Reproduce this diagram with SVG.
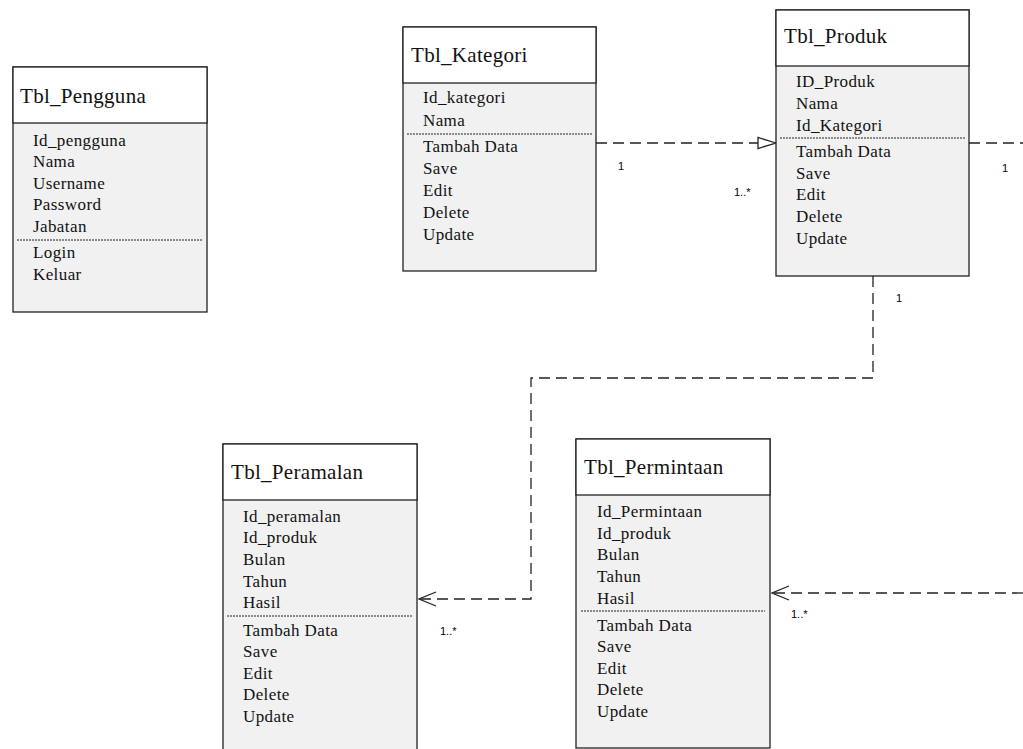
<svg xmlns="http://www.w3.org/2000/svg" width="1023" height="749" viewBox="0 0 1023 749">
<style>
.box{fill:#f1f1f1;stroke:#222;stroke-width:1.3}
.hdr{fill:#ffffff;stroke:#222;stroke-width:1.3}
.sep{stroke:#222;stroke-width:1;stroke-dasharray:2,1}
.title{font-family:'Liberation Serif','DejaVu Serif','Times New Roman',Times,serif;font-size:21px;letter-spacing:0.3px;fill:#111}
.attr{font-family:'Liberation Serif','DejaVu Serif','Times New Roman',Times,serif;font-size:17px;letter-spacing:0.4px;fill:#111}
.conn{fill:none;stroke:#222;stroke-width:1.3;stroke-dasharray:11,6}
.arr{fill:none;stroke:#222;stroke-width:1.3}
.lbl{font-family:'Liberation Sans',Arial,sans-serif;font-size:11px;fill:#000}
</style>
<rect width="1023" height="749" fill="#ffffff"/>

<g id="connectors">
  <path class="conn" d="M596,143 H758"/>
  <polygon points="776,143 758,137.5 758,148.5" fill="#ffffff" stroke="#222" stroke-width="1.3"/>
  <path class="conn" d="M969,143 H1023"/>
  <path class="conn" d="M873,276 V378 H531 V599 H419"/>
  <path class="arr" d="M436,592 L419,599 L436,606"/>
  <path class="conn" d="M1023,593 H772"/>
  <path class="arr" d="M789,586 L772,593 L789,600"/>
  <text class="lbl" x="618" y="170">1</text>
  <text class="lbl" x="734" y="196">1..*</text>
  <text class="lbl" x="1002" y="172">1</text>
  <text class="lbl" x="896" y="302">1</text>
  <text class="lbl" x="440" y="635">1..*</text>
  <text class="lbl" x="791" y="618">1..*</text>
</g>

<g id="tbl-pengguna">
  <rect class="box" x="13" y="67" width="194" height="245"/>
  <rect class="hdr" x="13" y="67" width="194" height="56"/>
  <text class="title" x="20" y="103">Tbl_Pengguna</text>
  <text class="attr" x="33" y="146">Id_pengguna</text>
  <text class="attr" x="33" y="167">Nama</text>
  <text class="attr" x="33" y="189">Username</text>
  <text class="attr" x="33" y="210">Password</text>
  <text class="attr" x="33" y="232">Jabatan</text>
  <line class="sep" x1="17" y1="240" x2="202" y2="240"/>
  <text class="attr" x="33" y="258">Login</text>
  <text class="attr" x="33" y="280">Keluar</text>
</g>

<g id="tbl-kategori">
  <rect class="box" x="403" y="27" width="193" height="244"/>
  <rect class="hdr" x="403" y="27" width="193" height="56"/>
  <text class="title" x="411" y="62">Tbl_Kategori</text>
  <text class="attr" x="423" y="103">Id_kategori</text>
  <text class="attr" x="423" y="126">Nama</text>
  <line class="sep" x1="407" y1="134" x2="592" y2="134"/>
  <text class="attr" x="423" y="152">Tambah Data</text>
  <text class="attr" x="423" y="174">Save</text>
  <text class="attr" x="423" y="196">Edit</text>
  <text class="attr" x="423" y="218">Delete</text>
  <text class="attr" x="423" y="240">Update</text>
</g>

<g id="tbl-produk">
  <rect class="box" x="776" y="10" width="193" height="266"/>
  <rect class="hdr" x="776" y="10" width="193" height="56"/>
  <text class="title" x="784" y="43">Tbl_Produk</text>
  <text class="attr" x="796" y="87">ID_Produk</text>
  <text class="attr" x="796" y="109">Nama</text>
  <text class="attr" x="796" y="131">Id_Kategori</text>
  <line class="sep" x1="780" y1="138" x2="965" y2="138"/>
  <text class="attr" x="796" y="157">Tambah Data</text>
  <text class="attr" x="796" y="179">Save</text>
  <text class="attr" x="796" y="200">Edit</text>
  <text class="attr" x="796" y="222">Delete</text>
  <text class="attr" x="796" y="244">Update</text>
</g>

<g id="tbl-peramalan">
  <rect class="box" x="223" y="444" width="194" height="320"/>
  <rect class="hdr" x="223" y="444" width="194" height="56"/>
  <text class="title" x="231" y="479">Tbl_Peramalan</text>
  <text class="attr" x="243" y="522">Id_peramalan</text>
  <text class="attr" x="243" y="543">Id_produk</text>
  <text class="attr" x="243" y="565">Bulan</text>
  <text class="attr" x="243" y="587">Tahun</text>
  <text class="attr" x="243" y="608">Hasil</text>
  <line class="sep" x1="227" y1="616" x2="413" y2="616"/>
  <text class="attr" x="243" y="636">Tambah Data</text>
  <text class="attr" x="243" y="657">Save</text>
  <text class="attr" x="243" y="679">Edit</text>
  <text class="attr" x="243" y="700">Delete</text>
  <text class="attr" x="243" y="722">Update</text>
</g>

<g id="tbl-permintaan">
  <rect class="box" x="576" y="439" width="194" height="309"/>
  <rect class="hdr" x="576" y="439" width="194" height="56"/>
  <text class="title" x="584" y="474">Tbl_Permintaan</text>
  <text class="attr" x="597" y="517">Id_Permintaan</text>
  <text class="attr" x="597" y="539">Id_produk</text>
  <text class="attr" x="597" y="560">Bulan</text>
  <text class="attr" x="597" y="582">Tahun</text>
  <text class="attr" x="597" y="604">Hasil</text>
  <line class="sep" x1="581" y1="611" x2="765" y2="611"/>
  <text class="attr" x="597" y="631">Tambah Data</text>
  <text class="attr" x="597" y="652">Save</text>
  <text class="attr" x="597" y="674">Edit</text>
  <text class="attr" x="597" y="695">Delete</text>
  <text class="attr" x="597" y="717">Update</text>
</g>
</svg>
